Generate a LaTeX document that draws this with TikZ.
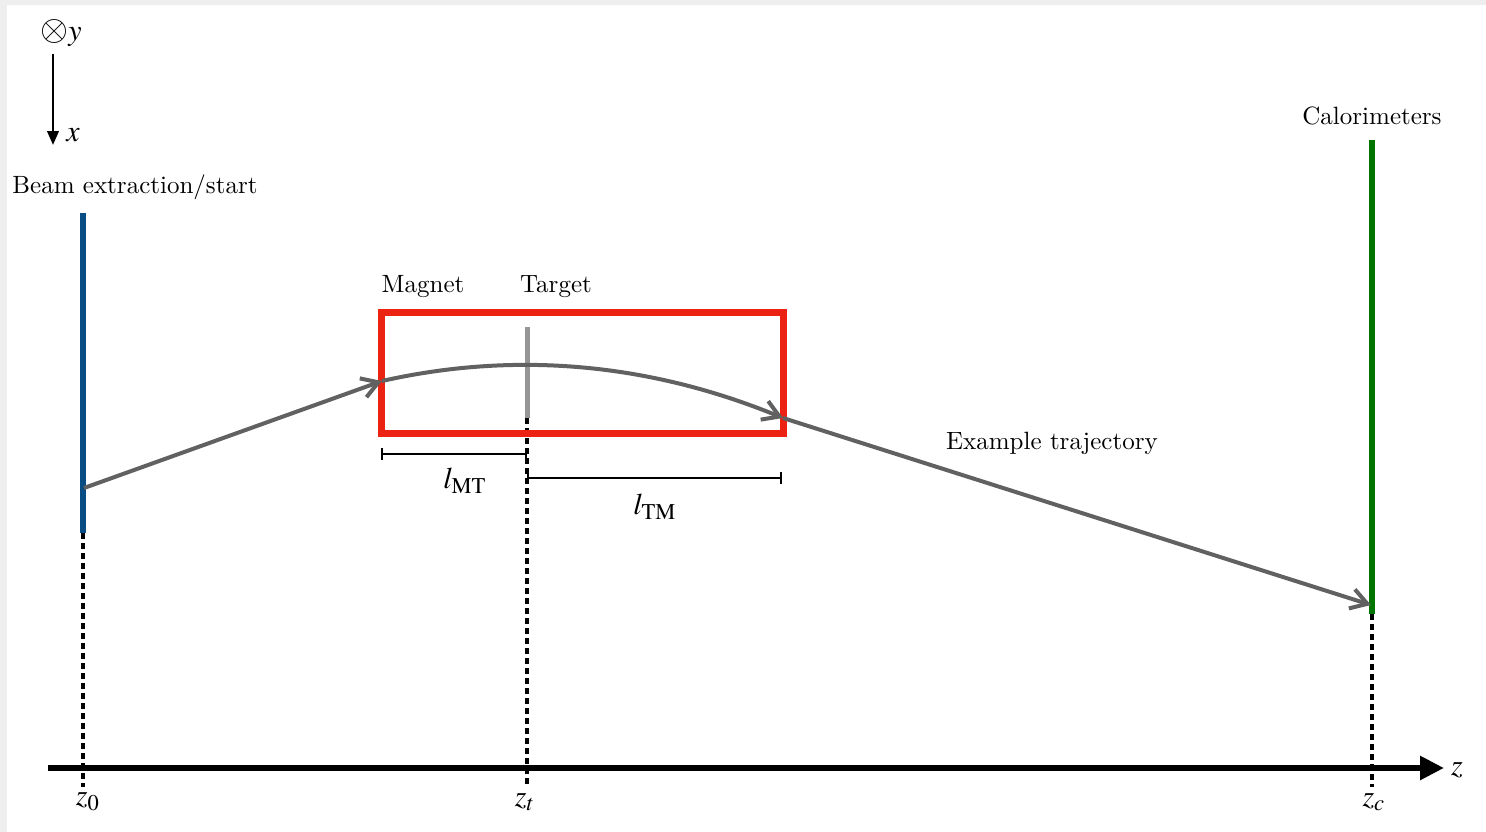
\documentclass[tikz,border=0pt]{standalone}
\usepackage{amsmath}
\usepackage{mathptmx}
\renewcommand{\rmdefault}{lmr}
\usepackage{tikz}
\usetikzlibrary{positioning,calc,arrows.meta}
\definecolor{beamblue}{RGB}{10,76,132}
\definecolor{magnetred}{RGB}{236,34,18}
\definecolor{calogreen}{RGB}{0,118,0}
\definecolor{trajgray}{RGB}{97,97,97}
\definecolor{targetgray}{RGB}{150,150,150}
\definecolor{framegray}{RGB}{238,238,238}

\begin{document}
\begin{tikzpicture}[x=0.4pt, y=-0.4pt,
    traj/.style={trajgray, line width=1.6pt, -{Straight Barb[length=6.5pt,width=8pt]}},
    detector/.style={line width=2.4pt},
    guide/.style={line width=1.25pt, dash pattern=on 2.4pt off 1.6pt},
    dimline/.style={line width=0.8pt, {Bar[width=5pt]}-{Bar[width=5pt]}},
    mathlabel/.style={font=\large},
    every node/.style={inner sep=1pt}]
      \useasboundingbox (0,0) rectangle (1486,832);
      \fill[framegray] (0,0) rectangle (1486,832);
      \fill[white] (7,5) rectangle (1486,832);
      \coordinate (beamtop) at (83,213);
      \coordinate (beambot) at (83,533);
      \coordinate (start) at (84,488);
      \coordinate (tgttop) at (527,327);
      \coordinate (tgtbot) at (527,418);
      \coordinate (calotop) at (1372,140);
      \coordinate (calobot) at (1372,614);
      \coordinate (magin) at (382,381);
      \coordinate (magout) at (783,418);
      \coordinate (hit) at (1371,605);
      \coordinate (axisstart) at (48,768);
      \coordinate (axisend) at (1444,768);
      \coordinate (xtop) at (53,54);
      \coordinate (xbot) at (53,145);
      \node (yaxis) [mathlabel] at (61,33) {{\Large$\otimes$}$y$};
      \node (xaxis) [mathlabel] at (73,135) {$x$};
      \node (beamlabel) at (135,187) {Beam extraction/start};
      \node (calolabel) at (1372,116) {Calorimeters};
      \node (magnetlabel) at (423,287) {Magnet};
      \node (targetlabel) at (556,287) {Target};
      \node (trajlabel) at (1052,443) {Example trajectory};
      \node (zlabel) [mathlabel] at (1457,770) {$z$};
      \node (z0) [mathlabel] at (88,802) {$z_0$};
      \node (zt) [mathlabel] at (525,802) {$z_t$};
      \node (zc) [mathlabel] at (1374,802) {$z_c$};
      \node (lmt) [mathlabel] at (465,481) {$l_{\mathrm{MT}}$};
      \node (ltm) [mathlabel] at (655,507) {$l_{\mathrm{TM}}$};
      \draw[line width=1pt, -{Triangle[length=5.5pt,width=4.5pt]}] (xtop) -- (xbot);
      \draw[guide] (beambot) -- (83,787);
      \draw[guide] (tgtbot) -- (527,787);
      \draw[guide] (calobot) -- (1372,787);
      \draw[line width=2.3pt, -{Triangle[length=9.6pt,width=9.2pt]}] (axisstart) -- (axisend);
      \draw[detector, beamblue] (beamtop) -- (beambot);
      \draw[detector, calogreen] (calotop) -- (calobot);
      \draw[magnetred, line width=2.8pt] (381,313) rectangle (783,433);
      \draw[detector, targetgray, line width=2pt] (tgttop) -- (tgtbot);
      \draw[traj] (start) -- (magin);
      \draw[traj] (magin) .. controls (515,351) and (649,363) .. (magout);
      \draw[traj] (magout) -- (hit);
      \draw[dimline] (381,454) -- (527,454);
      \draw[dimline] (527,478) -- (782,478);
    \end{tikzpicture}
\end{document}
